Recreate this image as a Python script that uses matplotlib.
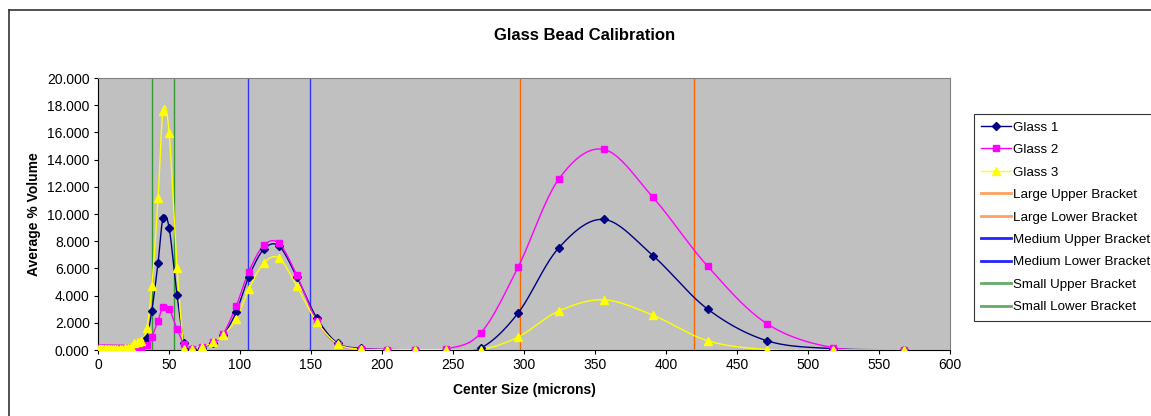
import numpy as np
import matplotlib

matplotlib.use("Agg")
import matplotlib.pyplot as plt
from matplotlib.lines import Line2D

plt.rcParams["font.family"] = ["Liberation Sans", "DejaVu Sans"]

# center sizes (microns) of the size bins
CENTER_SIZE = [
    0.4, 1.2, 2.0, 2.8, 3.7, 4.6, 5.6, 6.7, 7.9, 9.2, 10.6, 12.1, 13.7, 15.4,
    17.2, 19.1, 21.1, 23.2, 25.4, 28.0, 30.6, 34.3,
    37.9, 42.3, 45.8, 50.1, 55.7, 60.8, 66.4, 73.5, 80.8, 88.0, 97.2, 106.1,
    116.7, 127.5, 139.9, 154.0, 168.8, 185.5, 203.3, 223.5, 244.9, 269.6,
    295.8, 324.4, 356.1, 390.8, 429.4, 471.1, 517.6, 567.8, 622.0,
]

GLASS_1 = [
    0.05, 0.05, 0.05, 0.05, 0.05, 0.05, 0.05, 0.05, 0.05, 0.05, 0.05, 0.05, 0.05, 0.05,
    0.05, 0.05, 0.08, 0.12, 0.20, 0.30, 0.45, 0.90,
    2.88, 6.42, 9.69, 8.98, 4.01, 0.50, 0.10, 0.18, 0.55, 1.08, 2.76, 5.37,
    7.40, 7.64, 5.40, 2.37, 0.50, 0.12, 0.03, 0.02, 0.02, 0.15,
    2.71, 7.50, 9.60, 6.94, 3.00, 0.68, 0.10, 0.02, 0.00,
]

GLASS_2 = [
    0.12, 0.12, 0.12, 0.12, 0.12, 0.12, 0.12, 0.12, 0.12, 0.12, 0.12, 0.12, 0.12, 0.12,
    0.12, 0.12, 0.12, 0.12, 0.10, 0.05, 0.07, 0.34,
    0.97, 2.15, 3.17, 3.02, 1.54, 0.42, 0.05, 0.20, 0.60, 1.15, 3.20, 5.74,
    7.69, 7.84, 5.52, 2.15, 0.40, 0.10, 0.03, 0.03, 0.07, 1.25,
    6.08, 12.55, 14.75, 11.23, 6.15, 1.93, 0.17, 0.02, 0.00,
]

GLASS_3 = [
    0.10, 0.10, 0.10, 0.10, 0.10, 0.10, 0.10, 0.10, 0.10, 0.10, 0.10, 0.10, 0.10, 0.10,
    0.10, 0.12, 0.15, 0.25, 0.49, 0.61, 0.68, 1.59,
    4.69, 11.16, 17.60, 15.95, 6.06, 0.05, 0.07, 0.24, 0.56, 1.10, 2.25, 4.45,
    6.39, 6.75, 4.71, 2.07, 0.45, 0.05, 0.02, 0.02, 0.03, 0.03,
    0.95, 2.86, 3.69, 2.56, 0.68, 0.03, 0.00, 0.00, 0.00,
]

# bracket positions (microns)
LARGE_UPPER = 297.0
LARGE_LOWER = 419.8
MEDIUM_UPPER = 105.6
MEDIUM_LOWER = 149.3
SMALL_UPPER = 38.0
SMALL_LOWER = 53.5

GLASS_SERIES = [
    ("Glass 1", GLASS_1, "#000080", "D", 4.5),
    ("Glass 2", GLASS_2, "#FF00FF", "s", 5.0),
    ("Glass 3", GLASS_3, "#FFFF00", "^", 6.0),
]

BRACKETS = [
    ("Large Upper Bracket", LARGE_UPPER, "#FF6600"),
    ("Large Lower Bracket", LARGE_LOWER, "#FF6600"),
    ("Medium Upper Bracket", MEDIUM_UPPER, "#3333FF"),
    ("Medium Lower Bracket", MEDIUM_LOWER, "#3333FF"),
    ("Small Upper Bracket", SMALL_UPPER, "#339933"),
    ("Small Lower Bracket", SMALL_LOWER, "#339933"),
]


def smooth(xs, ys, steps=24):
    """Catmull-Rom style bezier smoothing, like a spreadsheet's smoothed line."""
    p = np.column_stack([xs, ys]).astype(float)
    p = np.vstack([p[0], p, p[-1]])
    out = []
    t = np.linspace(0, 1, steps)[:, None]
    for i in range(1, len(p) - 2):
        p0, p1, p2, p3 = p[i - 1], p[i], p[i + 1], p[i + 2]
        b1 = p1 + (p2 - p0) / 6.0
        b2 = p2 - (p3 - p1) / 6.0
        seg = ((1 - t) ** 3) * p1 + 3 * ((1 - t) ** 2) * t * b1 + 3 * (1 - t) * t ** 2 * b2 + t ** 3 * p2
        out.append(seg if i == 1 else seg[1:])
    out = np.vstack(out)
    return out[:, 0], out[:, 1]


W, H = 1151, 416
fig = plt.figure(figsize=(W / 100, H / 100), dpi=100)
ax = fig.add_axes([98 / W, 1 - 350 / H, 852 / W, 272 / H])
ax.set_facecolor("#C0C0C0")

handles = []
for label, x_val, color in BRACKETS:
    ax.plot([x_val, x_val], [0, 20], color=color, lw=1.0, zorder=2)

for label, values, color, marker, size in GLASS_SERIES:
    sx, sy = smooth(CENTER_SIZE, values)
    ax.plot(sx, sy, color=color, lw=1.0, zorder=3)
    ax.plot(CENTER_SIZE, values, linestyle="none", marker=marker, markersize=size,
            color=color, markeredgecolor=color, zorder=4)
    handles.append(Line2D([], [], color=color, lw=1.0, marker=marker, markersize=size - 0.5))

legend_colors = {"#FF6600": "#FFA060", "#3333FF": "#2222FF", "#339933": "#66AA66"}
for label, _, color in BRACKETS:
    handles.append(Line2D([], [], color=legend_colors[color], lw=2.0))

labels = [s[0] for s in GLASS_SERIES] + [b[0] for b in BRACKETS]

ax.set_xlim(0, 600)
ax.set_ylim(0, 20)
ax.set_xticks(np.arange(0, 601, 50))
ax.set_yticks(np.arange(0, 20.1, 2))
ax.set_yticklabels([f"{v:.3f}" for v in np.arange(0, 20.1, 2)])
ax.tick_params(direction="out", length=3, width=0.8, labelsize=10, colors="black", pad=3)
for side in ("top", "right"):
    ax.spines[side].set_color("#808080")
for side in ("left", "bottom"):
    ax.spines[side].set_color("black")

ax.set_xlabel("Center Size (microns)", fontsize=10, fontweight="bold", labelpad=8)
ax.set_ylabel("Average % Volume", fontsize=10, fontweight="bold", labelpad=4)
fig.text(585 / W, 1 - 35 / H, "Glass Bead Calibration", ha="center", va="center",
         fontsize=12, fontweight="bold")

leg = fig.legend(handles, labels, loc="upper left", bbox_to_anchor=(974 / W, 1 - 114 / H),
                 fontsize=9.6, frameon=True, fancybox=False, edgecolor="black",
                 handlelength=2.2, handletextpad=0.2, labelspacing=0.76,
                 borderpad=0.55, borderaxespad=0, numpoints=1)
leg.get_frame().set_linewidth(0.8)

# outer chart border
fig.add_artist(Line2D([9 / W, 9 / W], [0, 1 - 10 / H], color="#333333", lw=1.2,
                      transform=fig.transFigure))
fig.add_artist(Line2D([9 / W, 1], [1 - 10 / H, 1 - 10 / H], color="#333333", lw=1.2,
                      transform=fig.transFigure))

fig.savefig("out.png", dpi=100, facecolor="white")
